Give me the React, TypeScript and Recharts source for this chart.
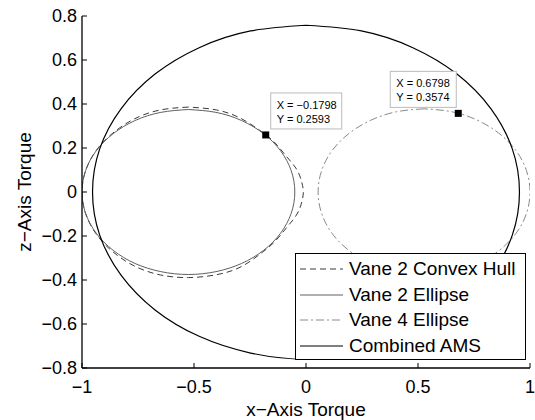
import React from 'react';
import { ComposedChart, Line, Scatter, XAxis, YAxis, Legend, Label } from 'recharts';

type Pt = { x: number; y: number };

const xTicks = [-1, -0.5, 0, 0.5, 1];
const yTicks = [-0.8, -0.6, -0.4, -0.2, 0, 0.2, 0.4, 0.6, 0.8];

// points, going round from the top
const hullPts: [number, number][] = [
  [-0.525, 0.386], [-0.65, 0.373], [-0.765, 0.333], [-0.862, 0.268], [-0.936, 0.19],
  [-0.984, 0.097], [-1.0, 0], [-0.984, -0.098], [-0.936, -0.192], [-0.862, -0.272],
  [-0.765, -0.337], [-0.65, -0.377], [-0.525, -0.389], [-0.4, -0.376], [-0.29, -0.34],
  [-0.2, -0.278], [-0.14, -0.226], [-0.085, -0.16], [-0.04, -0.1], [-0.018, -0.042],
  [-0.012, 0], [-0.018, 0.041], [-0.04, 0.1], [-0.085, 0.159],
  [-0.138, 0.223], [-0.195, 0.272], [-0.29, 0.334], [-0.4, 0.373], [-0.525, 0.386],
];

const vane2Pts: [number, number][] = [
  [-0.525, 0.375], [-0.648, 0.362], [-0.763, 0.325], [-0.861, 0.265], [-0.936, 0.188],
  [-0.984, 0.097], [-1.0, 0], [-0.984, -0.097], [-0.936, -0.188], [-0.861, -0.265],
  [-0.763, -0.325], [-0.648, -0.362], [-0.525, -0.375], [-0.402, -0.362], [-0.288, -0.325],
  [-0.189, -0.265], [-0.114, -0.188], [-0.066, -0.097], [-0.05, 0], [-0.066, 0.097],
  [-0.114, 0.188], [-0.189, 0.265], [-0.288, 0.325], [-0.402, 0.362], [-0.525, 0.375],
];

const vane4Pts: [number, number][] = [
  [0.527, 0.378], [0.405, 0.365], [0.291, 0.327], [0.193, 0.267], [0.117, 0.189],
  [0.07, 0.098], [0.054, 0], [0.07, -0.098], [0.117, -0.189], [0.193, -0.267],
  [0.291, -0.327], [0.405, -0.365], [0.527, -0.378], [0.65, -0.365], [0.764, -0.327],
  [0.861, -0.267], [0.937, -0.189], [0.984, -0.098], [1.0, 0], [0.984, 0.098],
  [0.937, 0.189], [0.861, 0.267], [0.764, 0.327], [0.65, 0.365], [0.527, 0.378],
];

const amsPts: [number, number][] = [
  [0, 0.758], [-0.247, 0.732], [-0.477, 0.656], [-0.674, 0.536], [-0.825, 0.379],
  [-0.921, 0.196], [-0.953, 0], [-0.921, -0.196], [-0.825, -0.379], [-0.674, -0.536],
  [-0.477, -0.656], [-0.247, -0.732], [0, -0.76], [0.247, -0.732], [0.477, -0.656],
  [0.674, -0.536], [0.825, -0.379], [0.921, -0.196], [0.953, 0], [0.921, 0.196],
  [0.825, 0.379], [0.674, 0.536], [0.477, 0.656], [0.247, 0.732], [0, 0.758],
];

const dataTips: Pt[] = [
  { x: -0.1798, y: 0.2593 },
  { x: 0.6798, y: 0.3574 },
];

const toPts = (a: [number, number][]): Pt[] => a.map(([x, y]) => ({ x, y }));

const FONT = '"Liberation Sans", Arial, Helvetica, sans-serif';
const minus = (s: string) => s.replace('-', '\u2212');

const series = [
  { name: 'Vane 2 Convex Hull', data: toPts(hullPts), color: '#3a3a3a', dash: '6 4', width: 1 },
  { name: 'Vane 2 Ellipse', data: toPts(vane2Pts), color: '#606060', dash: undefined, width: 1 },
  { name: 'Vane 4 Ellipse', data: toPts(vane4Pts), color: '#8a8a8a', dash: '8 3 2 3', width: 1 },
  { name: 'Combined AMS', data: toPts(amsPts), color: '#000000', dash: undefined, width: 1.2 },
];

function TipShape(props: any) {
  const { cx, cy, payload } = props;
  const left = payload.x > 0;
  const w = left ? 66 : 71;
  const bx = left ? cx - 68 : cx + 5;
  const by = cy - 42;
  return (
    <g>
      <rect x={bx} y={by} width={w} height={36} fill="#fff" stroke="#bbb" strokeWidth={1} />
      <text x={bx + 6} y={by + 16} fontSize={11} fill="#000" fontFamily={FONT}>
        {`X = ${minus(payload.x.toFixed(4))}`}
      </text>
      <text x={bx + 6} y={by + 30} fontSize={11} fill="#000" fontFamily={FONT}>
        {`Y = ${minus(payload.y.toFixed(4))}`}
      </text>
      <rect x={cx - 3.5} y={cy - 3.5} width={7} height={7} fill="#000" />
    </g>
  );
}

function LegendBox() {
  return (
    <div
      style={{
        position: 'relative',
        width: 231,
        height: 107,
        boxSizing: 'border-box',
        border: '1.3px solid #000',
        background: '#fff',
        fontFamily: FONT,
        fontSize: 19,
        color: '#000',
      }}
    >
      {series.map((s, i) => (
        <div
          key={s.name}
          style={{ position: 'absolute', left: 0, top: 2 + i * 25.7, height: 26, display: 'flex', alignItems: 'center' }}
        >
          <svg width={53} height={26} style={{ display: 'block' }}>
            <line x1={4} x2={47} y1={13} y2={13} stroke={s.color} strokeWidth={s.width} strokeDasharray={s.dash} />
          </svg>
          <span style={{ whiteSpace: 'nowrap', lineHeight: '26px' }}>{s.name}</span>
        </div>
      ))}
    </div>
  );
}

export default function App() {
  return (
    <div style={{ position: 'absolute', left: 0, top: 0, width: 535, height: 420, background: '#fff', fontFamily: FONT }}>
      <ComposedChart width={535} height={420} margin={{ top: 16, right: 5, bottom: 22, left: 22 }}>
        <XAxis
          type="number"
          dataKey="x"
          domain={[-1, 1]}
          ticks={xTicks}
          allowDataOverflow
          height={30}
          tickSize={-5}
          tickMargin={17}
          tickFormatter={(v: number) => minus(String(v))}
          tick={{ fill: '#000', fontSize: 18, fontFamily: FONT }}
          tickLine={{ stroke: '#000' }}
          axisLine={{ stroke: '#000', strokeWidth: 1.3 }}
        >
          <Label
            content={(p: any) => {
              const vb = p.viewBox;
              return (
                <text x={vb.x + vb.width / 2} y={vb.y + 48} textAnchor="middle" fontSize={19} fill="#000" fontFamily={FONT}>
                  x{'\u2212'}Axis Torque
                </text>
              );
            }}
          />
        </XAxis>
        <YAxis
          type="number"
          dataKey="y"
          domain={[-0.8, 0.8]}
          ticks={yTicks}
          allowDataOverflow
          width={60}
          tickSize={-5}
          tickMargin={10}
          tickFormatter={(v: number) => minus(String(v))}
          tick={{ fill: '#000', fontSize: 18, fontFamily: FONT }}
          tickLine={{ stroke: '#000' }}
          axisLine={{ stroke: '#000', strokeWidth: 1.3 }}
        >
          <Label
            content={(p: any) => {
              const vb = p.viewBox;
              const tx = vb.x + 9;
              const ty = vb.y + vb.height / 2;
              return (
                <text x={tx} y={ty} textAnchor="middle" fontSize={19} fill="#000" fontFamily={FONT} transform={`rotate(-90 ${tx} ${ty})`}>
                  z{'\u2212'}Axis Torque
                </text>
              );
            }}
          />
        </YAxis>
        {series.map((s) => (
          <Line
            key={s.name}
            data={s.data}
            dataKey="y"
            name={s.name}
            type="natural"
            stroke={s.color}
            strokeWidth={s.width}
            strokeDasharray={s.dash}
            dot={false}
            activeDot={false}
            isAnimationActive={false}
          />
        ))}
        <Scatter data={dataTips} shape={<TipShape />} isAnimationActive={false} legendType="none" />
        <Legend
          layout="vertical"
          align="center"
          verticalAlign="middle"
          content={() => <LegendBox />}
          wrapperStyle={{ left: 295, top: 253, width: 231, height: 107 }}
        />
      </ComposedChart>
    </div>
  );
}
